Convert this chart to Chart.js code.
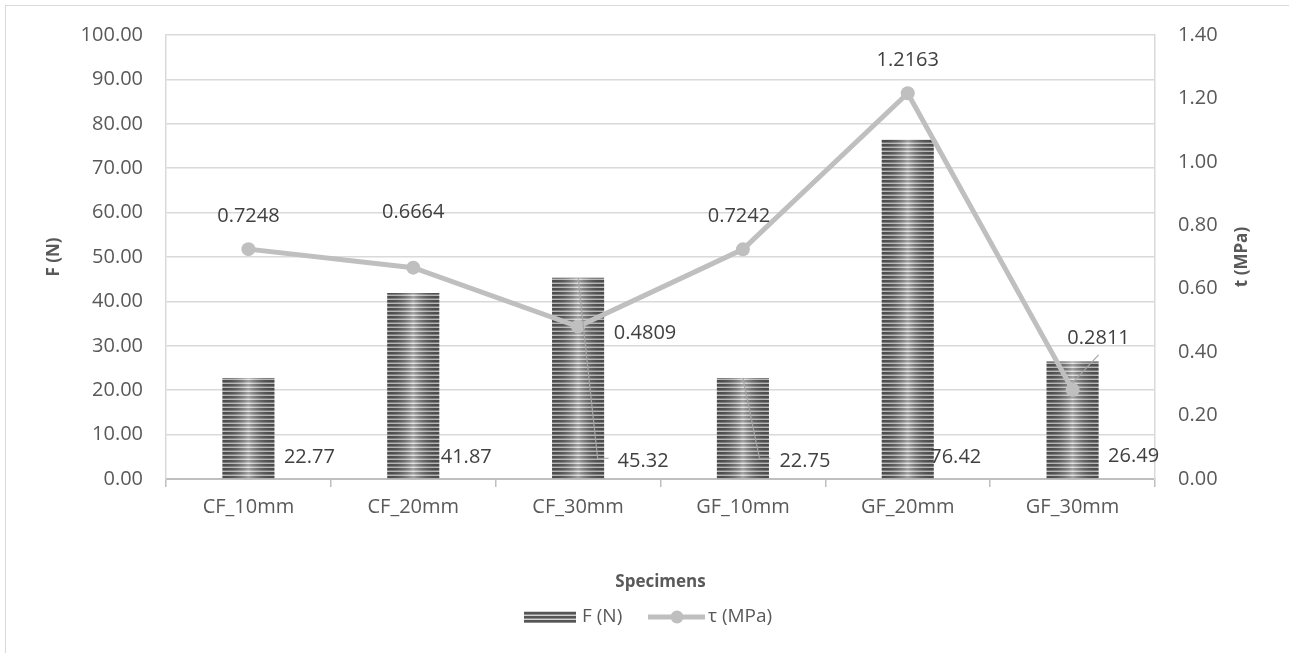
<!DOCTYPE html>
<html>
<head>
<meta charset="utf-8">
<script src="https://cdn.jsdelivr.net/npm/chart.js@4/dist/chart.umd.min.js"></script>
<style>
  html, body { margin: 0; padding: 0; background: #fff; overflow: hidden; }
  #frame { position: absolute; left: 5px; top: 5px; width: 1400px; height: 800px; border: 1.5px solid #d9d9d9; box-sizing: border-box; }
  #c { position: absolute; left: 0; top: 0; }
</style>
</head>
<body>
<div id="frame"></div>
<canvas id="c" width="1289" height="653"></canvas>
<script>
// ---- data ----
const categories = ['CF_10mm', 'CF_20mm', 'CF_30mm', 'GF_10mm', 'GF_20mm', 'GF_30mm'];
const forceN = [22.77, 41.87, 45.32, 22.75, 76.42, 26.49];
const tauMPa = [0.7248, 0.6664, 0.4809, 0.7242, 1.2163, 0.2811];
const seriesNames = ['F (N)', 'τ (MPa)'];
const leftAxis = { min: 0, max: 100, step: 10, title: 'F (N)' };
const rightAxis = { min: 0, max: 1.4, step: 0.2, title: 't (MPa)' };
const xTitle = 'Specimens';

// ---- label layout (offsets in px, relative to the mark) ----
const barLabelOffsets = [[61, -21], [53, -21], [65, -17], [62, -17], [48, -21], [61, -22]];
const lineLabelOffsets = [[0, -33], [0, -55], [67, 7], [-4, -33], [0, -33], [26, -52]];

const FONT = '"Open Sans", "Noto Sans", sans-serif';
const TICK_COLOR = '#595959';
const LABEL_COLOR = '#404040';
const LINE_COLOR = '#bfbfbf';

function makeStripe() {
  const c = document.createElement('canvas');
  c.width = 4; c.height = 4;
  const g = c.getContext('2d');
  g.fillStyle = '#d2d2d2'; g.fillRect(0, 0, 4, 4);
  g.fillStyle = '#8c8c8c'; g.fillRect(0, 2, 4, 1);
  g.fillStyle = '#555555'; g.fillRect(0, 0, 4, 2);
  return g.createPattern(c, 'repeat');
}
const stripe = makeStripe();

function shadeRect(ctx, x0, y0, w, h) {
  const gr = ctx.createLinearGradient(x0, 0, x0 + w, 0);
  gr.addColorStop(0, 'rgba(0,0,0,0.10)');
  gr.addColorStop(0.5, 'rgba(255,255,255,0.45)');
  gr.addColorStop(1, 'rgba(0,0,0,0.10)');
  ctx.fillStyle = gr;
  ctx.fillRect(x0, y0, w, h);
}

const overlayPlugin = {
  id: 'overlay',
  afterDatasetDraw(chart, args) {
    if (args.index !== 0) return;
    const ctx = chart.ctx;
    ctx.save();
    args.meta.data.forEach(el => {
      const w = el.width, x0 = el.x - w / 2;
      shadeRect(ctx, x0, el.y, w, el.base - el.y);
    });
    ctx.restore();
  },
  afterDraw(chart) {
    const ctx = chart.ctx;
    const ca = chart.chartArea;
    ctx.save();
    ctx.font = '20px ' + FONT;
    ctx.fillStyle = LABEL_COLOR;
    ctx.textAlign = 'center';
    ctx.textBaseline = 'middle';
    const barMeta = chart.getDatasetMeta(0);
    const lineMeta = chart.getDatasetMeta(1);
    const barPos = [], linePos = [];
    barMeta.data.forEach((el, i) => {
      const cx = el.x + barLabelOffsets[i][0], cy = el.base + barLabelOffsets[i][1];
      const t = forceN[i].toFixed(2);
      ctx.fillText(t, cx, cy);
      barPos.push({ cx, cy, w: ctx.measureText(t).width, el });
    });
    lineMeta.data.forEach((el, i) => {
      const cx = el.x + lineLabelOffsets[i][0], cy = el.y + lineLabelOffsets[i][1];
      const t = tauMPa[i].toFixed(4);
      ctx.fillText(t, cx, cy);
      linePos.push({ cx, cy, w: ctx.measureText(t).width, el });
    });
    // leader lines
    ctx.strokeStyle = '#a6a6a6';
    ctx.lineWidth = 1.2;
    const leader = (pts) => { ctx.beginPath(); ctx.moveTo(pts[0][0], pts[0][1]); for (let k = 1; k < pts.length; k++) ctx.lineTo(pts[k][0], pts[k][1]); ctx.stroke(); };
    [2, 3].forEach(i => {
      const p = barPos[i]; const left = p.cx - p.w / 2;
      leader([[p.el.x, p.el.y], [left - 20, p.cy - 3], [left - 9, p.cy - 3]]);
    });
    { const p = linePos[2]; const left = p.cx - p.w / 2; leader([[left - 27, p.cy - 2], [left - 10, p.cy - 2]]); }
    { const p = linePos[5]; leader([[p.el.x, p.el.y - 7], [p.cx, p.cy + 17]]); }

    // axis titles
    ctx.fillStyle = TICK_COLOR;
    ctx.font = 'bold 17px ' + FONT;
    const midY = (ca.top + ca.bottom) / 2;
    ctx.save(); ctx.translate(54, midY); ctx.rotate(-Math.PI / 2); ctx.fillText(leftAxis.title, 0, 0); ctx.restore();
    ctx.save(); ctx.translate(1242, midY); ctx.rotate(-Math.PI / 2); ctx.fillText(rightAxis.title, 0, 0); ctx.restore();
    ctx.fillText(xTitle, (ca.left + ca.right) / 2, 582);

    // legend
    ctx.font = '19px ' + FONT;
    ctx.textAlign = 'left';
    ctx.fillStyle = stripe;
    ctx.fillRect(524, 611, 52, 12);
    ctx.fillStyle = TICK_COLOR;
    ctx.fillText(seriesNames[0], 582, 617);
    ctx.strokeStyle = LINE_COLOR; ctx.lineWidth = 5;
    ctx.beginPath(); ctx.moveTo(648, 617); ctx.lineTo(705, 617); ctx.stroke();
    ctx.fillStyle = LINE_COLOR;
    ctx.beginPath(); ctx.arc(677, 617, 6.5, 0, Math.PI * 2); ctx.fill();
    ctx.fillStyle = TICK_COLOR;
    ctx.fillText(seriesNames[1], 708, 617);
    ctx.restore();
  }
};

new Chart(document.getElementById('c'), {
  data: {
    labels: categories,
    datasets: [
      { type: 'bar', label: seriesNames[0], data: forceN, yAxisID: 'y', order: 2,
        backgroundColor: stripe, borderWidth: 0, barPercentage: 0.316, categoryPercentage: 1 },
      { type: 'line', label: seriesNames[1], data: tauMPa, yAxisID: 'y1', order: 1,
        borderColor: LINE_COLOR, borderWidth: 5, tension: 0,
        pointRadius: 7, pointBackgroundColor: LINE_COLOR, pointBorderWidth: 0, pointHoverRadius: 7 }
    ]
  },
  options: {
    responsive: false,
    devicePixelRatio: 1,
    animation: false,
    events: [],
    layout: { padding: { top: 34, left: 0, right: 0, bottom: 0 } },
    plugins: { legend: { display: false }, tooltip: { enabled: false }, title: { display: false } },
    scales: {
      x: {
        offset: true,
        grid: { drawOnChartArea: false, drawTicks: true, tickLength: 8, color: '#bfbfbf', lineWidth: 1.5 },
        border: { display: true, color: '#bfbfbf', width: 2 },
        ticks: { color: TICK_COLOR, font: { family: FONT, size: 20 }, padding: 8, maxRotation: 0 },
        afterFit(s) { s.height = 174; }
      },
      y: {
        position: 'left',
        min: leftAxis.min, max: leftAxis.max,
        grid: { color: '#d9d9d9', lineWidth: 1.5, drawTicks: false },
        border: { display: true, color: '#d9d9d9', width: 1.5 },
        ticks: { stepSize: leftAxis.step, color: TICK_COLOR, font: { family: FONT, size: 20 }, padding: 23,
                 callback: v => Number(v).toFixed(2) },
        afterFit(s) { s.width = 166; }
      },
      y1: {
        position: 'right',
        min: rightAxis.min, max: rightAxis.max,
        grid: { drawOnChartArea: false, drawTicks: false },
        border: { display: true, color: '#d9d9d9', width: 1.5 },
        ticks: { stepSize: rightAxis.step, color: TICK_COLOR, font: { family: FONT, size: 20 }, padding: 23,
                 callback: v => Number(v).toFixed(2) },
        afterFit(s) { s.width = 134; }
      }
    }
  },
  plugins: [overlayPlugin]
});
</script>
</body>
</html>
